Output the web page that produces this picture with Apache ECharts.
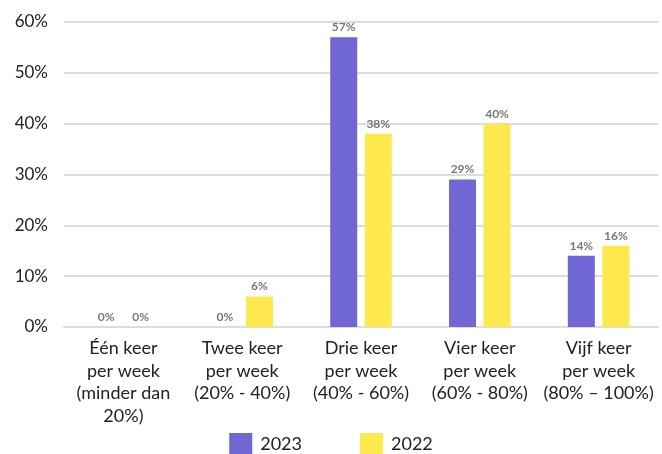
<!DOCTYPE html>
<html><head><meta charset="utf-8">
<script src="https://cdn.jsdelivr.net/npm/echarts@6/dist/echarts.min.js"></script>
<style>html,body{margin:0;padding:0;background:#fff}#c{width:662px;height:454px}</style>
</head><body><div id="c"></div>
<script>
const categories = ["Één keer\nper week\n(minder dan\n20%)", "Twee keer\nper week\n(20% - 40%)", "Drie keer\nper week\n(40% - 60%)", "Vier keer\nper week\n(60% - 80%)", "Vijf keer\nper week\n(80% – 100%)"];
const values2023 = [0, 0, 57, 29, 14];
const values2022 = [0, 6, 38, 40, 16];
const seriesNames = ["2023", "2022"];
const yTicks = [0, 10, 20, 30, 40, 50, 60];

const font = "Lato, 'Open Sans', sans-serif";
const chart = echarts.init(document.getElementById('c'), null, {renderer: 'canvas'});
const label = {show: true, position: 'top', distance: 4, formatter: '{c}%', color: '#777', fontSize: 12, fontWeight: 'bold', fontFamily: font};
chart.setOption({
  animation: false,
  grid: {left: 64, right: 4, top: 22, bottom: 127},
  legend: {bottom: -6, left: 'center', itemWidth: 23, itemHeight: 22, itemGap: 58, icon: 'rect',
    textStyle: {fontSize: 18, color: '#222', fontFamily: font, padding: [0, 0, 0, 3]}, data: seriesNames},
  xAxis: {type: 'category', data: categories,
    axisLine: {show: true, lineStyle: {color: '#dcdcdc', width: 2}}, axisTick: {show: false},
    axisLabel: {interval: 0, color: '#222', fontSize: 18, lineHeight: 22.5, margin: 10, fontFamily: font}},
  yAxis: {type: 'value', min: yTicks[0], max: yTicks[yTicks.length-1], interval: 10,
    axisLabel: {formatter: '{value}%', color: '#222', fontSize: 17, margin: 16, fontFamily: font},
    splitLine: {lineStyle: {color: '#dcdcdc', width: 2}}, axisLine: {show: false}, axisTick: {show: false}},
  series: [
    {name: seriesNames[0], type: 'bar', data: values2023, barWidth: 27, barGap: '28%', itemStyle: {color: '#7066d4'}, label: label},
    {name: seriesNames[1], type: 'bar', data: values2022, barWidth: 27, itemStyle: {color: '#fde84d'}, label: label}
  ]
});
</script></body></html>
